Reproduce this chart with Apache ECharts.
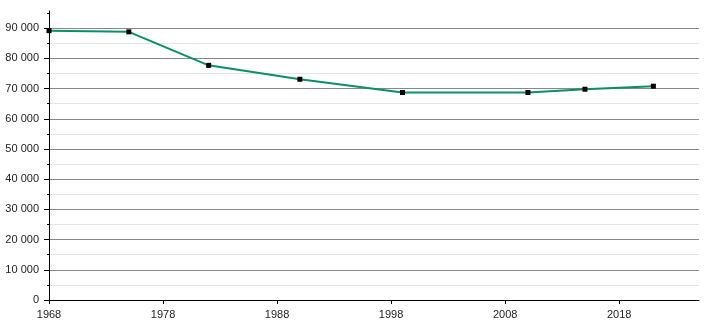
<!DOCTYPE html>
<html><head><meta charset="utf-8">
<script src="https://cdn.jsdelivr.net/npm/echarts@6/dist/echarts.min.js"></script>
<style>html,body{margin:0;padding:0;background:#fff}#c{width:710px;height:320px}</style>
</head><body><div id="c"></div>
<script>
const years = [1968, 1975, 1982, 1990, 1999, 2010, 2015, 2021];
const population = [89200, 88800, 77700, 73100, 68700, 68700, 69800, 70800];
const xTickLabels = [1968, 1978, 1988, 1998, 2008, 2018];
const yMajorTicks = [0, 10000, 20000, 30000, 40000, 50000, 60000, 70000, 80000, 90000];
const yMinorTicks = [0,5000,10000,15000,20000,25000,30000,35000,40000,45000,50000,55000,60000,65000,70000,75000,80000,85000,90000,95000];

const fmt = v => String(v).replace(/\B(?=(\d{3})+(?!\d))/g, ' ');
const font = 'Liberation Sans, Arial, sans-serif';
const chart = echarts.init(document.getElementById('c'), null, {renderer: 'canvas'});
chart.setOption({
  animation: false,
  backgroundColor: '#fff',
  grid: {left: 49, right: 11, top: 11, bottom: 20, containLabel: false},
  xAxis: {
    type: 'value', min: 1968, max: 2025, interval: 10,
    axisLine: {show: true, onZero: false, lineStyle: {color: '#000', width: 1}},
    axisTick: {show: true, length: 4, customValues: xTickLabels, lineStyle: {color: '#000'}},
    axisLabel: {customValues: xTickLabels, color: '#222', fontSize: 11, fontFamily: font, margin: 9, formatter: v => String(v)},
    splitLine: {show: false}
  },
  yAxis: [{
    type: 'value', min: 0, max: 95700, interval: 5000,
    axisLine: {show: true, lineStyle: {color: '#000', width: 1}},
    axisTick: {show: true, length: 2, customValues: yMinorTicks, lineStyle: {color: '#000'}},
    axisLabel: {customValues: yMajorTicks, color: '#222', fontSize: 11, fontFamily: font, margin: 10, formatter: v => fmt(v)},
    splitLine: {show: true, showMaxLine: false, lineStyle: {color: ['#888888', '#e4e4e4'], width: 1}}
  }, {
    type: 'value', min: 0, max: 95700, interval: 10000, position: 'left',
    axisLine: {show: false},
    axisTick: {show: true, length: 5, customValues: yMajorTicks, lineStyle: {color: '#000'}},
    axisLabel: {show: false},
    splitLine: {show: false}
  }],
  series: [{
    type: 'line',
    data: years.map((y, i) => [y, population[i]]),
    yAxisIndex: 0,
    lineStyle: {color: '#0a8f68', width: 2},
    itemStyle: {color: '#000'},
    symbol: 'rect', symbolSize: 5, showSymbol: true,
    z: 5
  }]
});
</script></body></html>
